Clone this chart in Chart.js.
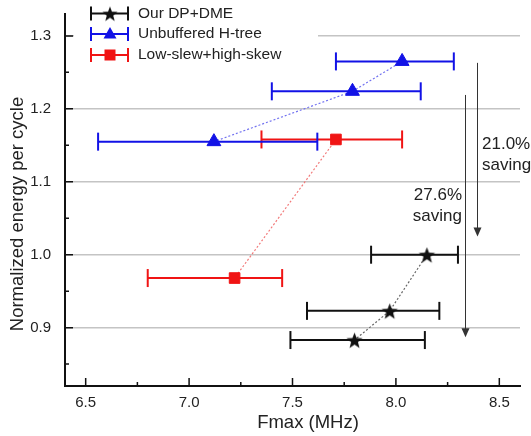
<!DOCTYPE html>
<html>
<head>
<meta charset="utf-8">
<script src="https://cdn.jsdelivr.net/npm/chart.js@4/dist/chart.umd.min.js"></script>
<style>
  html, body { margin: 0; padding: 0; background: #fff; }
  #wrap { width: 531px; height: 436px; }
</style>
</head>
<body>
<div id="wrap"><canvas id="chart-fmax" width="531" height="436"></canvas></div>
<script>
// Fmax (MHz) vs normalized energy per cycle, x error bars
const seriesNames = ['Our DP+DME', 'Unbuffered H-tree', 'Low-slew+high-skew'];
const seriesColors = ['#111111', '#1212e6', '#f01414'];
const lineColors = ['#666666', '#7373f0', '#f27a7a'];

const dpdmeFmax = [8.15, 7.97, 7.80];
const dpdmeEnergy = [1.000, 0.923, 0.883];
const dpdmeFmaxLow = [7.88, 7.57, 7.49];
const dpdmeFmaxHigh = [8.30, 8.21, 8.14];

const htreeFmax = [8.03, 7.79, 7.12];
const htreeEnergy = [1.265, 1.224, 1.155];
const htreeFmaxLow = [7.71, 7.40, 6.56];
const htreeFmaxHigh = [8.28, 8.12, 7.62];

const lowslewFmax = [7.71, 7.22];
const lowslewEnergy = [1.158, 0.968];
const lowslewFmaxLow = [7.35, 6.80];
const lowslewFmaxHigh = [8.03, 7.45];

const xTicks = [6.5, 7.0, 7.5, 8.0, 8.5];
const xMinorTicks = [6.75, 7.25, 7.75, 8.25];
const yTicks = [0.9, 1.0, 1.1, 1.2, 1.3];
const yMinorTicks = [0.85, 0.95, 1.05, 1.15, 1.25];

// saving arrows
const savingLabels = [['21.0%', 'saving'], ['27.6%', 'saving']];
const arrowFmax = [8.39, 8.335];
const arrowFrom = [1.263, 1.219];
const arrowTo = [1.025, 0.887];

const FONT = '"Liberation Sans", Arial, sans-serif';
Chart.defaults.font.family = FONT;
Chart.defaults.color = '#222';

// filled five point star for the DP+DME markers
function makeStar(r, color) {
    const s = Math.ceil(r * 2) + 2;
    const c = document.createElement('canvas');
    c.width = s; c.height = s;
    const g = c.getContext('2d');
    g.fillStyle = color;
    g.beginPath();
    for (let i = 0; i < 10; i++) {
        const rr = i % 2 === 0 ? r : r * 0.42;
        const a = -Math.PI / 2 + i * Math.PI / 5;
        const px = s / 2 + Math.cos(a) * rr;
        const py = s / 2 + 1 + Math.sin(a) * rr;
        if (i === 0) g.moveTo(px, py); else g.lineTo(px, py);
    }
    g.closePath();
    g.fill();
    return c;
}
const starImg = makeStar(8.5, seriesColors[0]);
const starSmall = makeStar(8, seriesColors[0]);

const groups = [
    { x: dpdmeFmax, y: dpdmeEnergy, lo: dpdmeFmaxLow, hi: dpdmeFmaxHigh, style: starImg, radius: 8 },
    { x: htreeFmax, y: htreeEnergy, lo: htreeFmaxLow, hi: htreeFmaxHigh, style: 'triangle', radius: 8 },
    { x: lowslewFmax, y: lowslewEnergy, lo: lowslewFmaxLow, hi: lowslewFmaxHigh, style: 'rect', radius: 7.5 }
];

const datasets = [];
groups.forEach(function (g, k) {
    // markers joined by a dotted line
    datasets.push({
        label: seriesNames[k],
        data: g.x.map((v, i) => ({ x: v, y: g.y[i] })),
        showLine: true,
        borderColor: lineColors[k],
        borderWidth: 1.2,
        borderDash: [2, 2],
        pointStyle: g.style,
        pointRadius: g.radius,
        pointBackgroundColor: seriesColors[k],
        pointBorderColor: seriesColors[k],
        pointBorderWidth: 1,
        order: 0
    });
    // one dataset per error bar, caps are rotated 'line' points
    g.x.forEach(function (v, i) {
        datasets.push({
            label: seriesNames[k] + ' err',
            data: [{ x: g.lo[i], y: g.y[i] }, { x: g.hi[i], y: g.y[i] }],
            showLine: true,
            borderColor: seriesColors[k],
            borderWidth: 2,
            pointStyle: 'line',
            pointRotation: 90,
            pointRadius: 9,
            pointBorderColor: seriesColors[k],
            pointBorderWidth: 2,
            order: 1
        });
    });
});

const decorPlugin = {
    id: 'decor',
    afterDraw(chart) {
        const ctx = chart.ctx;
        const xs = chart.scales.x, ys = chart.scales.y;
        const area = chart.chartArea;
        ctx.save();

        // inward tick marks
        ctx.strokeStyle = '#111';
        ctx.lineWidth = 1.5;
        ctx.beginPath();
        yTicks.forEach(v => { const p = ys.getPixelForValue(v); ctx.moveTo(area.left, p); ctx.lineTo(area.left + 8, p); });
        yMinorTicks.forEach(v => { const p = ys.getPixelForValue(v); ctx.moveTo(area.left, p); ctx.lineTo(area.left + 4, p); });
        xTicks.forEach(v => { const p = xs.getPixelForValue(v); ctx.moveTo(p, area.bottom); ctx.lineTo(p, area.bottom - 8); });
        xMinorTicks.forEach(v => { const p = xs.getPixelForValue(v); ctx.moveTo(p, area.bottom); ctx.lineTo(p, area.bottom - 4); });
        ctx.stroke();

        // saving arrows
        ctx.strokeStyle = '#333';
        ctx.fillStyle = '#333';
        ctx.lineWidth = 1;
        arrowFmax.forEach(function (fx, i) {
            const px = Math.round(xs.getPixelForValue(fx)) + 0.5;
            const top = ys.getPixelForValue(arrowFrom[i]);
            const tip = ys.getPixelForValue(arrowTo[i]);
            ctx.beginPath();
            ctx.moveTo(px, top);
            ctx.lineTo(px, tip - 6);
            ctx.stroke();
            ctx.beginPath();
            ctx.moveTo(px, tip);
            ctx.lineTo(px - 4, tip - 9);
            ctx.lineTo(px + 4, tip - 9);
            ctx.closePath();
            ctx.fill();
        });

        // saving labels
        ctx.fillStyle = '#222';
        ctx.font = '17px ' + FONT;
        ctx.textBaseline = 'middle';
        ctx.textAlign = 'left';
        ctx.fillText(savingLabels[0][0], 482, 144);
        ctx.fillText(savingLabels[0][1], 482, 165);
        ctx.textAlign = 'right';
        ctx.fillText(savingLabels[1][0], 462, 195);
        ctx.fillText(savingLabels[1][1], 462, 216);

        // axis titles
        ctx.font = '18.5px ' + FONT;
        ctx.textAlign = 'center';
        ctx.fillText('Fmax (MHz)', 308, 423);
        ctx.save();
        ctx.translate(18, 214);
        ctx.rotate(-Math.PI / 2);
        ctx.fillText('Normalized energy per cycle', 0, 0);
        ctx.restore();

        // legend on a white box
        ctx.fillStyle = '#fff';
        ctx.fillRect(area.left + 9, 0, 244, 66);
        const rowY = [13.5, 34, 55];
        rowY.forEach(function (y, k) {
            ctx.strokeStyle = seriesColors[k];
            ctx.lineWidth = 2;
            ctx.beginPath();
            ctx.moveTo(91, y); ctx.lineTo(128, y);
            ctx.moveTo(91, y - 7); ctx.lineTo(91, y + 7);
            ctx.moveTo(128, y - 7); ctx.lineTo(128, y + 7);
            ctx.stroke();
            ctx.fillStyle = seriesColors[k];
            if (k === 0) {
                ctx.drawImage(starSmall, 110 - starSmall.width / 2, y - starSmall.height / 2);
            } else if (k === 1) {
                ctx.beginPath();
                ctx.moveTo(110, y - 7);
                ctx.lineTo(116.5, y + 4.5);
                ctx.lineTo(103.5, y + 4.5);
                ctx.closePath();
                ctx.fill();
            } else {
                ctx.fillRect(104.5, y - 5.5, 11, 11);
            }
            ctx.fillStyle = '#222';
            ctx.font = '15.5px ' + FONT;
            ctx.textAlign = 'left';
            ctx.fillText(seriesNames[k], 138, y);
        });
        ctx.restore();
    }
};

var ctx = document.getElementById('chart-fmax').getContext('2d');
var chart = new Chart(ctx, {
    type: 'scatter',
    data: { datasets: datasets },
    options: {
        responsive: false,
        animation: false,
        layout: { padding: { top: 14, right: 8, left: 0, bottom: 0 } },
        scales: {
            x: {
                type: 'linear',
                min: 6.4,
                max: 8.6,
                afterBuildTicks: s => { s.ticks = xTicks.map(v => ({ value: v })); },
                afterFit: s => { s.height = 50; },
                grid: { display: false, drawTicks: false },
                border: { display: true, color: '#111', width: 2 },
                ticks: {
                    padding: 8,
                    font: { size: 15 },
                    color: '#222',
                    callback: v => v.toFixed(1)
                }
            },
            y: {
                type: 'linear',
                min: 0.82,
                max: 1.33,
                afterBuildTicks: s => { s.ticks = yTicks.map(v => ({ value: v })); },
                afterFit: s => { s.width = 65; s.paddingTop = 0; s.paddingBottom = 0; },
                grid: { color: '#c4c4c4', lineWidth: 1.5, drawTicks: false },
                border: { display: true, color: '#111', width: 2 },
                ticks: {
                    padding: 14,
                    font: { size: 15 },
                    color: '#222',
                    callback: v => v.toFixed(1)
                }
            }
        },
        plugins: {
            legend: { display: false },
            tooltip: { enabled: false },
            title: { display: false }
        }
    },
    plugins: [decorPlugin]
});
</script>
</body>
</html>
